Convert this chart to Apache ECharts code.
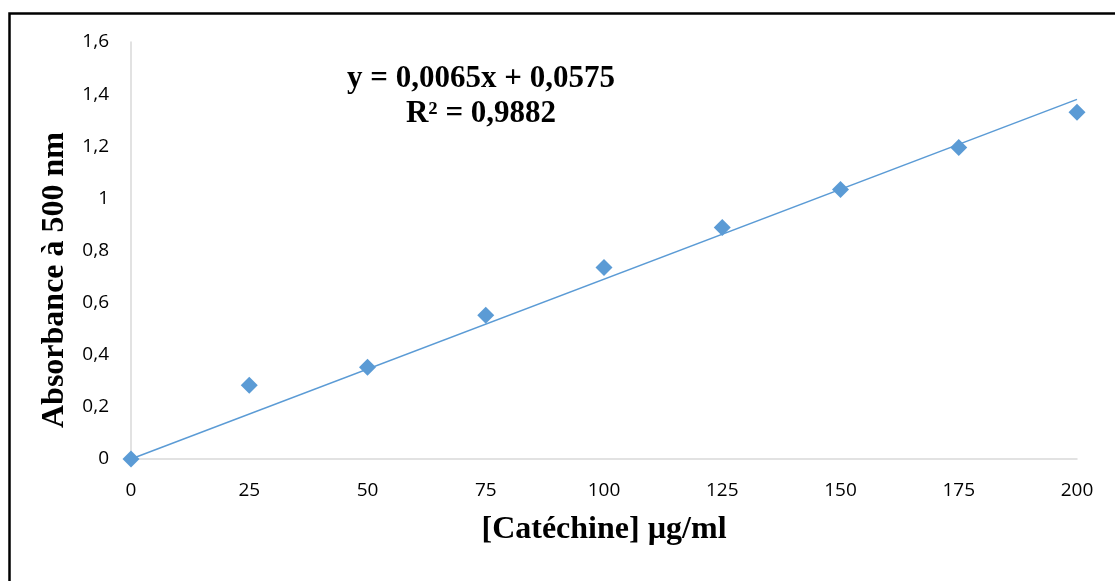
<!DOCTYPE html>
<html>
<head>
<meta charset="utf-8">
<script src="https://cdn.jsdelivr.net/npm/echarts@6/dist/echarts.min.js"></script>
<style>
html, body { margin: 0; padding: 0; background: #fff; }
#chart { width: 1115px; height: 581px; }
</style>
</head>
<body>
<div id="chart"></div>
<script>
// concentrations (µg/ml) and measured absorbance
var conc = [0, 25, 50, 75, 100, 125, 150, 175, 200];
var absorb = [0, 0.283, 0.352, 0.552, 0.735, 0.888, 1.034, 1.195, 1.330];
// trend line as drawn (end points)
var trendX = [0, 200];
var trendY = [0, 1.38];
var eqLines = ['y = 0,0065x + 0,0575', 'R² = 0,9882'];
var xTitle = '[Catéchine] µg/ml';
var yTitle = 'Absorbance à 500 nm';

var chart = echarts.init(document.getElementById('chart'));

var titleFont = {fontFamily: 'Liberation Serif', fontWeight: 'bold', fontSize: 32, fill: '#000'};

var option = {
    animation: false,
    backgroundColor: '#fff',
    grid: {
        left: 131,
        right: 38,
        top: 42,
        bottom: 122
    },
    xAxis: {
        type: 'value',
        min: 0,
        max: 200,
        interval: 25,
        axisLine: {show: true, lineStyle: {color: '#D9D9D9', width: 1.5}},
        axisTick: {show: false},
        splitLine: {show: false},
        axisLabel: {fontFamily: 'Open Sans', fontSize: 19, color: '#000', margin: 22}
    },
    yAxis: {
        type: 'value',
        min: 0,
        max: 1.6,
        interval: 0.2,
        axisLine: {show: true, lineStyle: {color: '#D9D9D9', width: 1.5}},
        axisTick: {show: false},
        splitLine: {show: false},
        axisLabel: {
            fontFamily: 'Open Sans', fontSize: 19, color: '#000', margin: 22,
            formatter: function (v) { return String(Math.round(v * 10) / 10).replace('.', ','); }
        }
    },
    series: [
        {
            name: 'trend',
            type: 'line',
            data: trendX.map(function (x, i) { return [x, trendY[i]]; }),
            showSymbol: false,
            lineStyle: {color: '#5B9BD5', width: 1.5},
            z: 2
        },
        {
            name: 'abs',
            type: 'scatter',
            data: conc.map(function (x, i) { return [x, absorb[i]]; }),
            symbol: 'diamond',
            symbolSize: [17, 17],
            itemStyle: {color: '#5B9BD5', opacity: 1},
            z: 3
        }
    ],
    graphic: [
        {
            type: 'rect',
            left: 7,
            top: 11,
            shape: {width: 1130, height: 600},
            style: {fill: 'none', stroke: '#000', lineWidth: 2.5},
            silent: true
        },
        {
            type: 'text',
            x: 481,
            y: 96,
            style: Object.assign({}, titleFont, {
                text: eqLines.join('\n'),
                fontSize: 31,
                lineHeight: 35,
                textAlign: 'center',
                textVerticalAlign: 'middle'
            })
        },
        {
            type: 'text',
            x: 604,
            y: 530,
            style: Object.assign({}, titleFont, {
                text: xTitle,
                textAlign: 'center',
                textVerticalAlign: 'middle'
            })
        },
        {
            type: 'text',
            x: 55,
            y: 280,
            rotation: Math.PI / 2,
            style: Object.assign({}, titleFont, {
                text: yTitle,
                textAlign: 'center',
                textVerticalAlign: 'middle'
            })
        }
    ]
};

chart.setOption(option);
</script>
</body>
</html>
